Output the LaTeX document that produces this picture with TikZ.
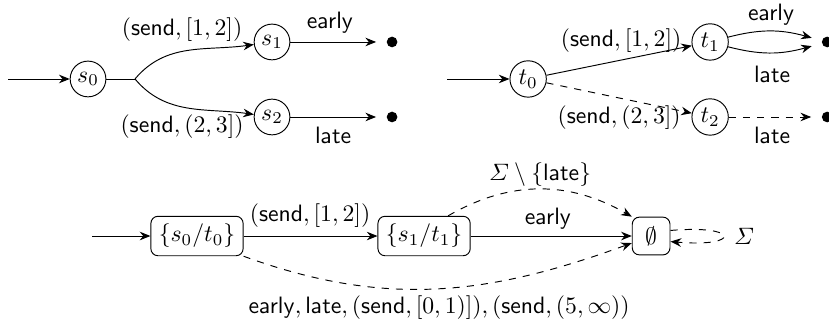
\documentclass[tikz,border=0pt]{standalone}
\usepackage{amsmath, amssymb}
\usetikzlibrary{arrows.meta, positioning}

\begin{document}
\begin{tikzpicture}[
  >={Stealth[length=4.5pt, width=3.6pt]},
  state/.style={draw, circle, inner sep=1.5pt, minimum size=0.53cm},
  setbox/.style={draw, rounded corners=3pt, minimum size=0.56cm},
  sink/.style={circle, fill, inner sep=0pt, minimum size=4.5pt, outer sep=4.5pt},
  lbl/.style={inner sep=1pt}
]
  \useasboundingbox (0,0) rectangle (12.30,4.823);

  % left automaton
  \coordinate (s0in) at (0.119,3.651);
  \node[state] (s0) at (1.306,3.651) {$s_0$};
  \coordinate (split) at (2.003,3.651);
  \node[state] (s1) at (4.036,4.200) {$s_1$};
  \node[state] (s2) at (4.036,3.087) {$s_2$};
  \node[sink] (sd1) at (5.817,4.200) {};
  \node[sink] (sd2) at (5.817,3.087) {};

  \draw[->] (s0in) -- (s0);
  \draw (s0) -- (split);
  \draw[->] (split) to[out=50, in=188] (s1);
  \draw[->] (split) to[out=-50, in=172] (s2);
  \draw[->] (s1) -- (sd1);
  \draw[->] (s2) -- (sd2);

  \node[lbl] (ls1) at (2.701,4.378) {$(\mathsf{send},[1,2])$};
  \node[lbl] (ls2) at (2.701,2.938) {$(\mathsf{send},(2,3])$};
  \node[lbl] (le1) at (4.897,4.482) {$\mathsf{early}$};
  \node[lbl] (ll1) at (4.942,2.820) {$\mathsf{late}$};

  % right automaton
  \coordinate (t0in) at (6.633,3.651);
  \node[state] (t0) at (7.836,3.651) {$t_0$};
  \node[state] (t1) at (10.536,4.200) {$t_1$};
  \node[state] (t2) at (10.536,3.087) {$t_2$};
  \node[sink] (td1) at (12.273,4.200) {};
  \node[sink] (td2) at (12.273,3.087) {};

  \draw[->] (t0in) -- (t0);
  \draw[->] (t0) -- (t1);
  \draw[->, dashed] (t0) -- (t2);
  \draw[->] (t1) to[bend left=15] (td1);
  \draw[->] (t1) to[bend right=15] (td1);
  \draw[->, dashed] (t2) -- (td2);

  \node[lbl] (lt1) at (9.216,4.215) {$(\mathsf{send},[1,2])$};
  \node[lbl] (lt2) at (9.186,3.072) {$(\mathsf{send},(2,3])$};
  \node[lbl] (le2) at (11.442,4.600) {$\mathsf{early}$};
  \node[lbl] (ll2) at (11.456,3.725) {$\mathsf{late}$};
  \node[lbl] (ll3) at (11.456,2.820) {$\mathsf{late}$};

  % product
  \coordinate (pin) at (1.365,1.321);
  \node[setbox] (p0) at (2.923,1.321) {$\{s_0/t_0\}$};
  \node[setbox] (p1) at (6.292,1.321) {$\{s_1/t_1\}$};
  \node[setbox] (pe) at (9.661,1.321) {$\emptyset$};

  \draw[->] (pin) -- (p0);
  \draw[->] (p0) -- (p1);
  \draw[->] (p1) -- (pe);
  \draw[->, dashed] (p1.40) to[out=30, in=150] (pe.135);
  \draw[->, dashed] (p0.south east) to[out=-20, in=200] (pe.200);
  \draw[->, dashed] (pe.16) to[out=5, in=-5, min distance=1.05cm] (pe.-16);

  \node[lbl] (lp1) at (4.600,1.618) {$(\mathsf{send},[1,2])$};
  \node[lbl] (lp2) at (8.132,1.573) {$\mathsf{early}$};
  \node[lbl] (lp3) at (8.014,2.226) {$\varSigma\setminus\{\mathsf{late}\}$};
  \node[lbl] (lp4) at (6.515,0.252) {$\mathsf{early},\mathsf{late},(\mathsf{send},[0,1)]),(\mathsf{send},(5,\infty))$};
  \node[lbl] (lp5) at (11.041,1.321) {$\varSigma$};
\end{tikzpicture}
\end{document}
